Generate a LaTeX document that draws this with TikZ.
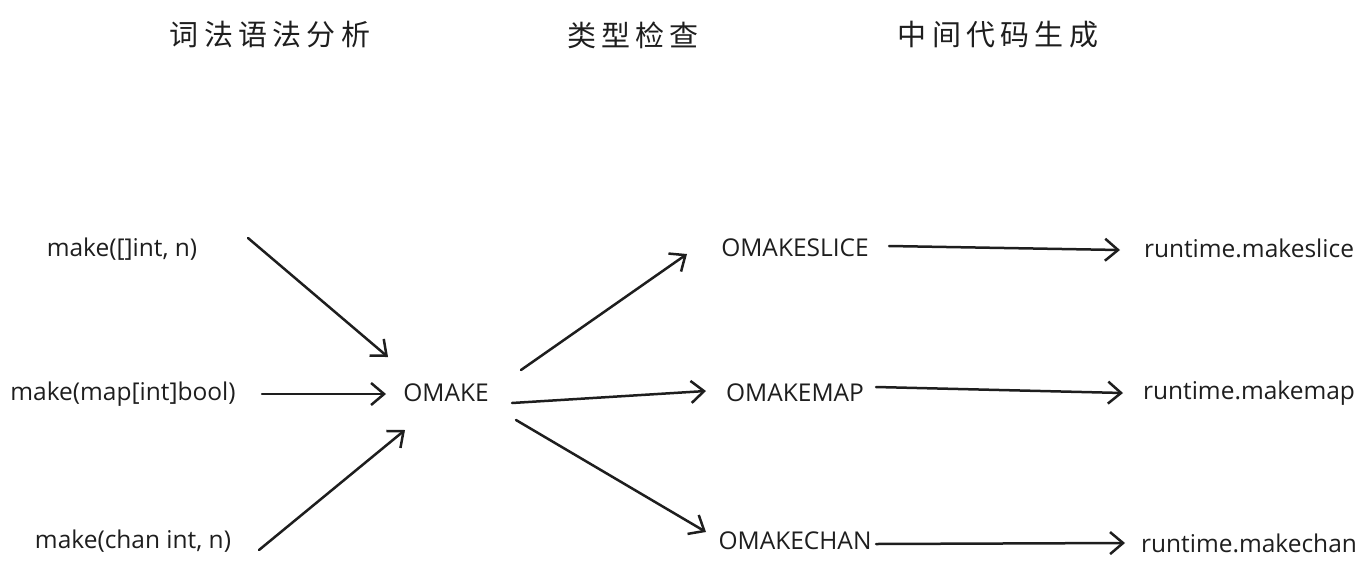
\documentclass[tikz,border=0pt]{standalone}
\usepackage{fontspec}
\setmainfont{Open Sans}
\newfontfamily\cjk[LetterSpace=18]{Noto Sans CJK SC}
\usetikzlibrary{arrows.meta}
\definecolor{ink}{HTML}{1E1E1E}
\tikzset{
  lbl/.style={font=\fontsize{24.5}{29}\selectfont, text=ink, inner sep=0pt},
  head/.style={font=\cjk\fontsize{29}{34}\selectfont, text=ink, inner sep=0pt},
  arr/.style={draw=ink, line width=2.5pt, line cap=round, -{Straight Barb[length=13pt,width=22pt,line width=2.5pt]}},
}
\begin{document}
\begin{tikzpicture}[x=1pt,y=-1pt]
\useasboundingbox (0,0) rectangle (1363,571);
\node[head] (h1) at (270,35) {词法语法分析};
\node[head] (h2) at (633,35) {类型检查};
\node[head] (h3) at (998,35) {中间代码生成};

\node[lbl] (a1) at (122,249) {make([]int, n)};
\node[lbl] (a2) at (123,394) {make(map[int]bool)};
\node[lbl] (a3) at (133,541) {make(chan int, n)};
\node[lbl] (om) at (446,393) {OMAKE};
\node[lbl] (s1) at (795,248) {OMAKESLICE};
\node[lbl] (s2) at (795,393) {OMAKEMAP};
\node[lbl] (s3) at (795,541) {OMAKECHAN};
\node[lbl] (r1) at (1249,248) {runtime.makeslice};
\node[lbl] (r2) at (1249,393) {runtime.makemap};
\node[lbl] (r3) at (1249,543) {runtime.makechan};

\draw[arr] ([shift={(126,-11)}]a1.center) -- ([shift={(-58,-36)}]om.center);
\draw[arr] ([shift={(139,0)}]a2.center) -- ([shift={(-60,1)}]om.center);
\draw[arr] ([shift={(126,9)}]a3.center) -- ([shift={(-41,37)}]om.center);
\draw[arr] ([shift={(75,-23)}]om.center) -- ([shift={(-108,6)}]s1.center);
\draw[arr] ([shift={(66,10)}]om.center) -- ([shift={(-89,-2)}]s2.center);
\draw[arr] ([shift={(70,27)}]om.center) -- ([shift={(-89,-9)}]s3.center);
\draw[arr] ([shift={(94,-2)}]s1.center) -- ([shift={(-129,2)}]r1.center);
\draw[arr] ([shift={(81,-6)}]s2.center) -- ([shift={(-126,0)}]r2.center);
\draw[arr] ([shift={(81,3)}]s3.center) -- ([shift={(-124,0)}]r3.center);
\end{tikzpicture}
\end{document}
